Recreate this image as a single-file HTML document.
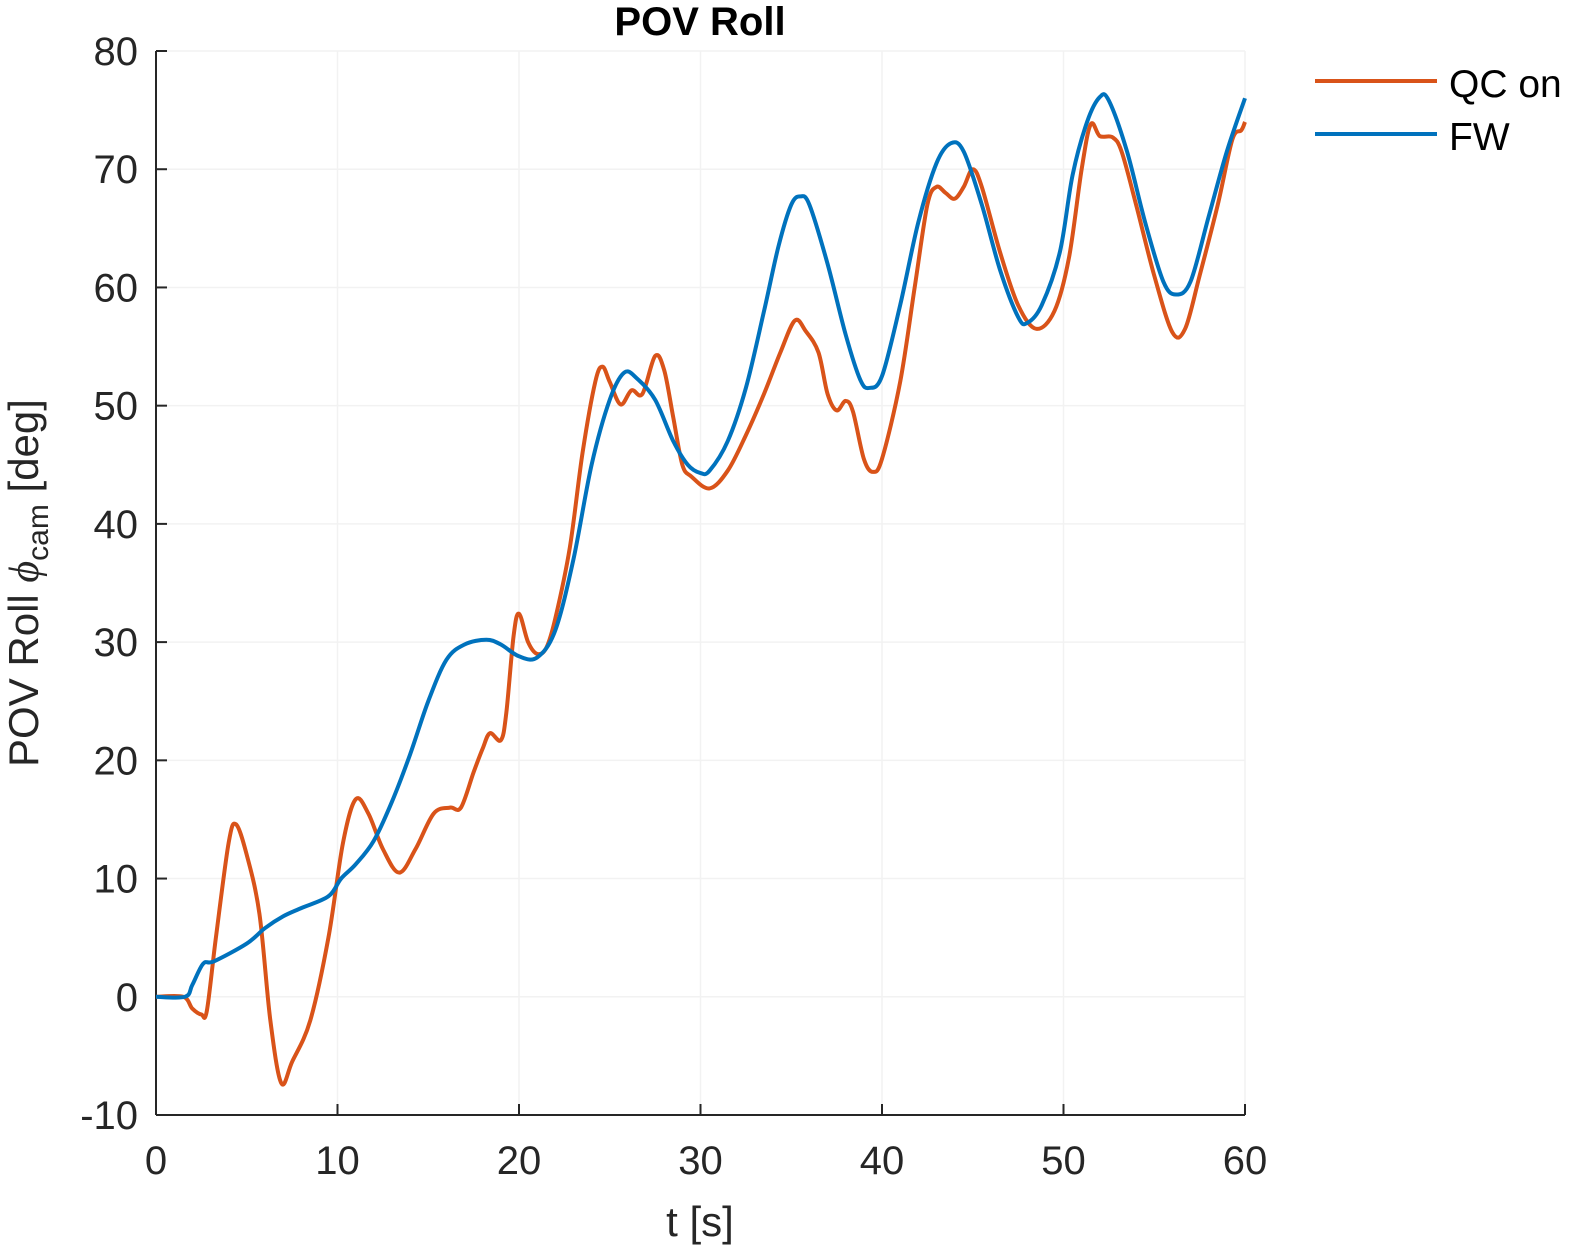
<!DOCTYPE html>
<html><head><meta charset="utf-8"><style>
html,body{margin:0;padding:0;background:#fff;}
svg{display:block;font-family:"Liberation Sans",sans-serif;}
</style></head><body>
<svg id="chart" width="1575" height="1253" viewBox="0 0 1575 1253">
<g id="grid"></g>
<g id="axes"></g>
<g id="series"></g>
<text x="700" y="35" font-size="40" font-weight="bold" text-anchor="middle" fill="#000">POV Roll</text>
<text x="700" y="1236" font-size="42" text-anchor="middle" fill="#262626">t [s]</text>
<text transform="translate(38,583) rotate(-90)" font-size="42" text-anchor="middle" fill="#262626">POV Roll <tspan font-family="Liberation Serif" font-style="italic">ϕ</tspan><tspan font-size="30" dy="10">cam</tspan><tspan dy="-10"> [deg]</tspan></text>
<g>
<line x1="1315" y1="81" x2="1437" y2="81" stroke="#D95319" stroke-width="4"/>
<text x="1449" y="97" font-size="39" fill="#000">QC on</text>
<line x1="1315" y1="134" x2="1437" y2="134" stroke="#0072BD" stroke-width="4"/>
<text x="1449" y="150" font-size="39" fill="#000">FW</text>
</g>
</svg>
<script>
const xTicks=[0,10,20,30,40,50,60];
const yTicks=[-10,0,10,20,30,40,50,60,70,80];
const qcT=[0,1.5,2,2.5,2.8,3.3,4,4.4,5,5.7,6.3,6.9,7.5,8.5,9.5,10.3,11,11.7,12.5,13.4,14.3,15.3,16.2,16.8,17.5,18,18.4,19,19.3,19.7,20,20.5,21,21.5,22,22.8,23.5,24.2,24.6,25,25.6,26.2,26.8,27.5,28,28.5,29,29.5,30.5,31.5,32.5,33.5,34.4,35.2,35.8,36.5,37,37.5,38,38.4,39,39.5,40,41,41.8,42.5,43,43.5,44,44.5,45,45.5,46.5,47.5,48.5,49.5,50.3,51,51.5,52,52.7,53.2,54,55,56,56.7,57.5,58.5,59.3,59.8,60];
const qcV=[0,0,-1,-1.5,-1.2,5,13,14.6,12,7,-2,-7.3,-5.5,-2,5,13,16.7,15.5,12.5,10.5,12.5,15.5,16,16,19,21,22.3,21.7,24,30.5,32.4,30,29,29.5,32,38,46,52,53.3,52,50.1,51.3,51,54.2,53,49,45,44,43,44.5,47.5,51,54.5,57.2,56.3,54.5,51,49.6,50.4,49.5,45.5,44.4,45.5,52,60,67,68.5,68,67.5,68.5,70,68.5,63,58.5,56.5,58,62.5,70,73.8,72.8,72.7,71.5,67,61,56.2,56.5,61,67,72.5,73.3,74];
const fwT=[0,1.6,2,2.6,3.2,5,6,7,8,9.5,10.2,11,12,13,14,15,16,17,18.2,19,20,21,22,23,24,25,25.8,26.5,27.5,28.5,29.3,30,30.5,31.5,32.5,33.5,34.3,35,35.5,36,37,38,38.8,39.3,40,41,42,43,43.8,44.5,45.5,46.5,47.5,48,48.8,49.8,50.5,51.3,52,52.5,53.5,54.5,55.5,56.2,57,58,59,60];
const fwV=[0,0,1,2.8,3,4.5,5.8,6.8,7.5,8.5,10,11.2,13.2,16.5,20.5,25,28.5,29.8,30.2,29.8,28.8,28.7,31,37,45,50.5,52.8,52.3,50.5,47,45,44.3,44.5,47,51.5,58,63.5,67,67.7,67,62,56,52.2,51.5,52.5,58.5,65.5,70.5,72.2,71.5,67,61.5,57.5,57,58.5,63,69.5,74,76.1,75.8,71.5,65.5,60.5,59.4,60.5,66,71.5,76];
const NS="http://www.w3.org/2000/svg";
const X0=156,X1=1245,Y0=1115,Y1=51;
function sx(t){return X0+(t-0)/(60-0)*(X1-X0);}
function sy(v){return Y0-(v+10)/(90)*(Y0-Y1);}
function mk(tag,attrs,parent){const e=document.createElementNS(NS,tag);for(const k in attrs)e.setAttribute(k,attrs[k]);parent.appendChild(e);return e;}
const grid=document.getElementById('grid'),axes=document.getElementById('axes'),series=document.getElementById('series');
xTicks.forEach(t=>{
 const g=mk('line',{x1:sx(t),x2:sx(t),y1:Y1,y2:Y0,stroke:'#f2f2f2','stroke-width':1.5},grid);
 
 
 const tk=mk('line',{x1:sx(t),x2:sx(t),y1:Y0,y2:Y0-11,stroke:'#262626','stroke-width':2},axes);
 
 
 const lb=mk('text',{x:sx(t),y:Y0+59,'font-size':40,'text-anchor':'middle',fill:'#262626'},axes);
 lb.textContent=t;
 
 
});
yTicks.forEach(v=>{
 const g=mk('line',{x1:X0,x2:X1,y1:sy(v),y2:sy(v),stroke:'#f2f2f2','stroke-width':1.5},grid);
 
 
 const tk=mk('line',{x1:X0,x2:X0+11,y1:sy(v),y2:sy(v),stroke:'#262626','stroke-width':2},axes);
 
 
 const lb=mk('text',{x:X0-18,y:sy(v)+14,'font-size':40,'text-anchor':'end',fill:'#262626'},axes);
 lb.textContent=v;
 
 
});
const xa=mk('line',{x1:X0,x2:X1,y1:Y0,y2:Y0,stroke:'#262626','stroke-width':2},axes);


const ya=mk('line',{x1:X0,x2:X0,y1:Y1,y2:Y0,stroke:'#262626','stroke-width':2},axes);


function pathD(T,V){
 const p=T.map((t,i)=>[sx(t),sy(V[i])]);
 let d='M'+p[0][0]+','+p[0][1];
 for(let i=0;i<p.length-1;i++){
  const a=p[Math.max(i-1,0)],b=p[i],c=p[i+1],e=p[Math.min(i+2,p.length-1)];
  const c1=[b[0]+(c[0]-a[0])/6,b[1]+(c[1]-a[1])/6],c2=[c[0]-(e[0]-b[0])/6,c[1]-(e[1]-b[1])/6];
  d+=' C'+c1[0]+','+c1[1]+' '+c2[0]+','+c2[1]+' '+c[0]+','+c[1];
 }
 return d;
}
const qc=mk('path',{d:pathD(qcT,qcV),fill:'none',stroke:'#D95319','stroke-width':4,'stroke-linejoin':'round'},series);


const fw=mk('path',{d:pathD(fwT,fwV),fill:'none',stroke:'#0072BD','stroke-width':4,'stroke-linejoin':'round'},series);


</script>
</body></html>
